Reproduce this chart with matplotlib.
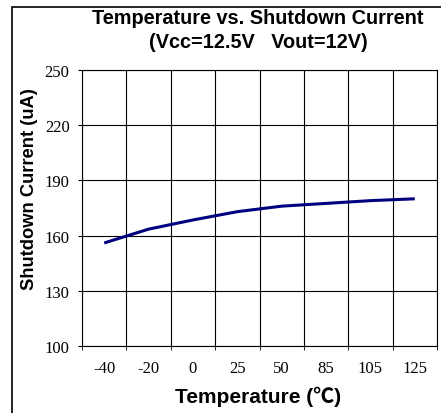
import matplotlib
matplotlib.use("Agg")
import matplotlib.pyplot as plt
import numpy as np

# data
temps = ['-40', '-20', '0', '25', '50', '85', '105', '125']
current = [156, 163.5, 168.5, 173, 176, 177.5, 179, 180]
yticks = [100, 130, 160, 190, 220, 250]

fig = plt.figure(figsize=(4.41, 4.14), dpi=100)
ax = fig.add_axes([82/441, 1-347/414, 355/441, 276/414])

x = np.arange(len(temps))
ax.plot(x, current, color='#000080', lw=2.2, solid_capstyle='butt', zorder=3)

ax.set_xlim(-0.5, len(temps)-0.5)
ax.set_ylim(100, 250)
ax.set_yticks(yticks)
ax.set_xticks(x)
ax.set_xticklabels(temps, family='Liberation Serif', fontsize=12)
ax.set_yticklabels([str(v) for v in yticks], family='Liberation Serif', fontsize=12)

# vertical grid between categories, horizontal grid at ticks
ax.set_xticks(np.arange(len(temps)+1) - 0.5, minor=True)
ax.grid(which='minor', axis='x', color='black', lw=0.8)
ax.grid(which='major', axis='y', color='black', lw=0.8)
ax.tick_params(axis='x', which='major', length=0, pad=10)
ax.tick_params(axis='x', which='minor', length=3, direction='out')
ax.tick_params(axis='y', length=3, pad=6)
for s in ax.spines.values():
    s.set_linewidth(0.8)

bold = dict(family=['Liberation Sans', 'Noto Sans CJK JP', 'DejaVu Sans'], fontweight='bold')
fig.text(258/441, 1-19/414, 'Temperature vs. Shutdown Current', ha='center', va='center', fontsize=14.3, **bold)
fig.text(258/441, 1-43/414, '(Vcc=12.5V   Vout=12V)', ha='center', va='center', fontsize=14.3, **bold)
fig.text(30/441, 1-189/414, 'Shutdown Current (uA)', rotation=90, ha='center', va='center', fontsize=13.2, **bold)
fig.text(258/441, 1-397/414, 'Temperature (℃)', ha='center', va='center', fontsize=15, **bold)

# outer frame
fig.patches.append(plt.Rectangle((12/441, -0.05), 1.1, 1-8/414+0.05, transform=fig.transFigure,
                                 fill=False, edgecolor='black', lw=1.2))

fig.savefig('out.png', dpi=100)
